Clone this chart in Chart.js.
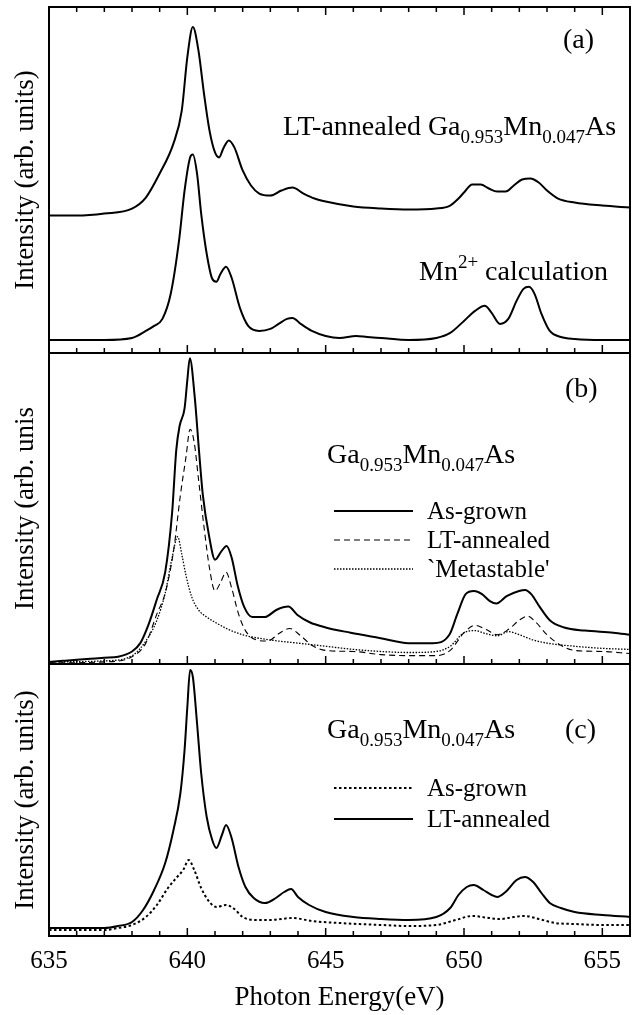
<!DOCTYPE html>
<html>
<head>
<meta charset="utf-8">
<script src="https://cdn.jsdelivr.net/npm/chart.js@4.4.0/dist/chart.umd.min.js"></script>
<style>
  body { margin: 0; background: #fff; }
  canvas { position: absolute; left: 0; }
</style>
</head>
<body>
<canvas id="pa" width="644" height="354" style="top:0px"></canvas>
<canvas id="pb" width="644" height="312" style="top:353px"></canvas>
<canvas id="pc" width="644" height="351" style="top:664px"></canvas>
<script>
// panel (a): LT-annealed film and Mn2+ calculation
const aLtE = [635,636,637,638,638.5,639,639.5,639.8,640.0,640.2,640.4,640.6,640.8,641.0,641.15,641.3,641.5,641.7,642.0,642.3,642.6,643.0,643.4,643.8,644.2,644.6,645,646,647,648,649,649.5,649.8,650.0,650.3,650.6,650.9,651.2,651.5,651.8,652.1,652.4,652.7,653.0,653.4,654,655,656];
const aLtI = [137,137,139,144,155,179,209,242,295,325,302,259,222,200,195,204,212,205,182,167,159,157,162,165,159,154,151,146,144,143,144,147,154,160,168,168,164,161,161,167,173,174,170,162,154,150,147,145];
const aCalcE = [635,636,637,638,638.5,638.8,639.1,639.4,639.7,639.9,640.1,640.2,640.35,640.5,640.7,640.9,641.05,641.2,641.4,641.6,641.9,642.2,642.6,643.0,643.3,643.6,643.8,644.1,644.5,645,645.5,646.1,646.5,647,648,649,649.5,650.0,650.4,650.75,651.0,651.3,651.6,651.9,652.15,652.35,652.55,652.8,653.1,653.5,654,655,656];
const aCalcI = [13,13,13,15,22,27,34,59,112,162,195,198,179,139,99,74,71,79,86,75,45,27,22,24,29,34,35,29,22,17,15,17,16,15,13,15,20,32,42,47,40,29,34,52,64,66,59,39,22,16,14,13,13];

// panel (b): as-grown, LT-annealed, 'metastable'
const bGrownE = [635,635.5,636,636.5,637,637.5,638,638.3,638.6,638.9,639.2,639.45,639.6,639.72,639.9,640.0,640.09,640.27,640.42,640.56,640.79,641.0,641.23,641.42,641.6,641.82,642.05,642.35,642.8,643.23,643.65,643.98,644.42,645,645.9,646.94,648,648.87,649.47,649.76,650.06,650.36,650.65,650.95,651.17,651.54,651.99,652.21,652.43,652.73,653.1,653.62,654.36,655.4,656];
const bGrownI = [2,3,4,5,6,7,12,20,38,62,88,145,205,228,245,272,293,255,205,162,122,100,108,113,102,75,55,45,45,52,55,47,40,35,30,25,20,20,28,48,67,70,67,60,58,65,70,71,67,55,42,35,32,30,28];
const bLtE = [635,637,638,638.5,638.9,639.2,639.5,639.75,639.95,640.1,640.25,640.4,640.6,640.8,641.0,641.2,641.4,641.6,641.85,642.1,642.5,642.9,643.3,643.7,644.1,644.5,645,646,647,648,649,649.5,650.0,650.4,650.8,651.2,651.6,652.0,652.3,652.6,653.0,653.5,654,655,656];
const bLtI = [1,2,7,20,48,68,108,162,198,225,212,178,132,92,70,78,88,73,48,32,23,22,29,34,27,18,13,12,9,8,8,13,30,37,33,28,33,42,46,40,28,18,13,12,10];
const bMetaE = [635,637,638,638.5,638.9,639.2,639.45,639.65,639.8,639.95,640.15,640.4,640.7,641.0,641.5,642,643,644,645,646,647,648,649,649.5,650.0,650.4,650.8,651.2,651.6,652.0,652.5,653.0,654,655,656];
const bMetaI = [2,3,8,22,42,68,102,122,105,85,65,52,45,40,33,28,23,20,17,14,12,11,12,17,30,32,29,27,31,28,23,20,17,15,14];

// panel (c): as-grown vs LT-annealed
const cLtE = [635,636,637,637.5,638,638.4,638.8,639.2,639.5,639.75,639.9,640.0,640.1,640.2,640.35,640.5,640.7,640.9,641.05,641.25,641.4,641.6,641.85,642.1,642.4,642.8,643.2,643.5,643.75,644.0,644.4,645,646,647,648,649,649.5,649.8,650.1,650.35,650.7,651.0,651.2,651.5,651.9,652.2,652.5,652.8,653.1,653.5,654,655,656];
const cLtI = [8,8,8,10,14,26,46,73,106,143,186,229,266,259,213,163,119,96,88,101,111,98,69,49,38,33,38,44,47,39,31,24,19,17,16,19,28,41,49,51,46,41,39,44,56,59,54,43,33,28,24,21,19];
const cGrownE = [635,637,637.5,638,638.5,638.9,639.3,639.6,639.85,640.05,640.25,640.5,640.8,641.05,641.4,641.7,642.0,642.5,643,643.8,644.5,645.5,647,648,649,649.7,650.3,650.9,651.3,651.8,652.2,652.7,653.3,654,655,656];
const cGrownI = [6,6,8,11,19,31,48,58,66,76,66,48,34,29,31,27,19,16,16,18,15,13,11,10,11,16,20,18,17,19,20,17,13,12,11,11];

const eMin = 635, eMax = 656;
const FONT = '"Liberation Serif", "Times New Roman", serif';

function pts(xs, ys) { return xs.map((x, i) => ({ x: x, y: ys[i] })); }

function line(label, xs, ys, width, dash) {
  return {
    label: label, data: pts(xs, ys),
    borderColor: '#000', borderWidth: width, borderDash: dash || [],
    pointRadius: 0, fill: false, cubicInterpolationMode: 'monotone'
  };
}

// text with sub/superscripts: parts = [[text, ''|'sub'|'sup'], ...]
function rich(ctx, parts, x, y, size, small) {
  ctx.textBaseline = 'alphabetic';
  ctx.textAlign = 'left';
  for (const [t, k] of parts) {
    const s = k ? small : size;
    ctx.font = s + 'px ' + FONT;
    const dy = k === 'sub' ? size * 0.28 : (k === 'sup' ? -size * 0.42 : 0);
    ctx.fillText(t, x, y + dy);
    x += ctx.measureText(t).width;
  }
}

const frame = {
  id: 'frame',
  afterDatasetsDraw(chart, args, o) {
    const ctx = chart.ctx, a = chart.chartArea, xs = chart.scales.x;
    ctx.save();
    ctx.strokeStyle = '#000';
    ctx.lineWidth = 2;
    ctx.strokeRect(a.left, a.top, a.right - a.left, a.bottom - a.top);
    ctx.lineWidth = 1.5;
    xs.ticks.forEach(t => {
      const px = xs.getPixelForValue(t.value);
      const len = t.value % 5 === 0 ? 8 : 5;
      ctx.beginPath();
      ctx.moveTo(px, a.bottom); ctx.lineTo(px, a.bottom - len);
      if (o.topTicks) { ctx.moveTo(px, a.top); ctx.lineTo(px, a.top + len); }
      ctx.stroke();
    });
    ctx.fillStyle = '#000';
    (o.notes || []).forEach(n => rich(ctx, n.parts, n.x, n.y, n.size, n.small));
    (o.keys || []).forEach(k => {
      const ds = chart.data.datasets[k.ds];
      ctx.lineWidth = ds.borderWidth;
      ctx.setLineDash(ds.borderDash);
      ctx.beginPath();
      ctx.moveTo(k.x0, k.y); ctx.lineTo(k.x1, k.y);
      ctx.stroke();
      ctx.setLineDash([]);
      ctx.font = '25px ' + FONT;
      ctx.textBaseline = 'middle';
      ctx.fillText(ds.label, k.tx, k.y + 1);
    });
    ctx.restore();
  }
};

function panel(id, datasets, yMax, yTitle, showX, pad, frameOpts) {
  return new Chart(document.getElementById(id), {
    type: 'line',
    data: { datasets: datasets },
    options: {
      responsive: false,
      animation: false,
      layout: { padding: pad },
      plugins: { legend: { display: false }, tooltip: { enabled: false }, frame: frameOpts },
      scales: {
        x: {
          type: 'linear', min: eMin, max: eMax,
          display: showX,
          grid: { display: false, drawTicks: false },
          border: { display: false },
          ticks: {
            stepSize: 1, autoSkip: false, maxRotation: 0, padding: 10,
            color: '#000', font: { family: FONT, size: 25 },
            callback: v => (v % 5 === 0 ? String(v) : '')
          },
          title: {
            display: showX, text: 'Photon Energy(eV)', color: '#000',
            font: { family: FONT, size: 27 }, padding: { top: 0, bottom: 1 }
          },
          afterFit: s => { if (showX) s.height = 79; }
        },
        y: {
          min: 0, max: yMax,
          grid: { display: false, drawTicks: false },
          border: { display: false },
          ticks: { display: false },
          title: {
            display: true, text: yTitle, color: '#000',
            font: { family: FONT, size: 27 }, padding: { top: 10, bottom: 0 }
          },
          afterFit: s => { s.width = 49; }
        }
      }
    },
    plugins: [frame]
  });
}

const sub = (t) => [t, 'sub'];
const formula = [['Ga', ''], sub('0.953'), ['Mn', ''], sub('0.047'), ['As', '']];

panel('pa',
  [line('LT-annealed', aLtE, aLtI, 2), line('Mn2+ calculation', aCalcE, aCalcI, 2)],
  345, 'Intensity (arb. units)', false,
  { left: 0, right: 14, top: 7, bottom: 1 },
  {
    topTicks: true,
    notes: [
      { parts: [['(a)', '']], x: 563, y: 48, size: 28, small: 19 },
      { parts: [['LT-annealed Ga', '']].concat(formula.slice(1)), x: 283, y: 135, size: 28, small: 19 },
      { parts: [['Mn', ''], ['2+', 'sup'], [' calculation', '']], x: 419, y: 280, size: 28, small: 19 }
    ]
  });

panel('pb',
  [line('As-grown', bGrownE, bGrownI, 2), line('LT-annealed', bLtE, bLtI, 1.1, [6, 4]), line('`Metastable\'', bMetaE, bMetaI, 1.3, [1.5, 1.5])],
  298, 'Intensity (arb. unis', false,
  { left: 0, right: 14, top: 0, bottom: 1 },
  {
    notes: [
      { parts: [['(b)', '']], x: 565, y: 44, size: 28, small: 19 },
      { parts: formula, x: 327, y: 110, size: 28, small: 19 }
    ],
    keys: [
      { ds: 0, x0: 334, x1: 413, tx: 427, y: 158 },
      { ds: 1, x0: 334, x1: 413, tx: 427, y: 187 },
      { ds: 2, x0: 334, x1: 413, tx: 427, y: 216 }
    ]
  });

panel('pc',
  [line('As-grown', cGrownE, cGrownI, 2, [2.5, 2.5]), line('LT-annealed', cLtE, cLtI, 2)],
  272, 'Intensity (arb. units)', true,
  { left: 0, right: 14, top: 0, bottom: 0 },
  {
    notes: [
      { parts: formula, x: 327, y: 74, size: 28, small: 19 },
      { parts: [['(c)', '']], x: 565, y: 74, size: 28, small: 19 }
    ],
    keys: [
      { ds: 0, x0: 334, x1: 413, tx: 427, y: 124 },
      { ds: 1, x0: 334, x1: 413, tx: 427, y: 155 }
    ]
  });
</script>
</body>
</html>
